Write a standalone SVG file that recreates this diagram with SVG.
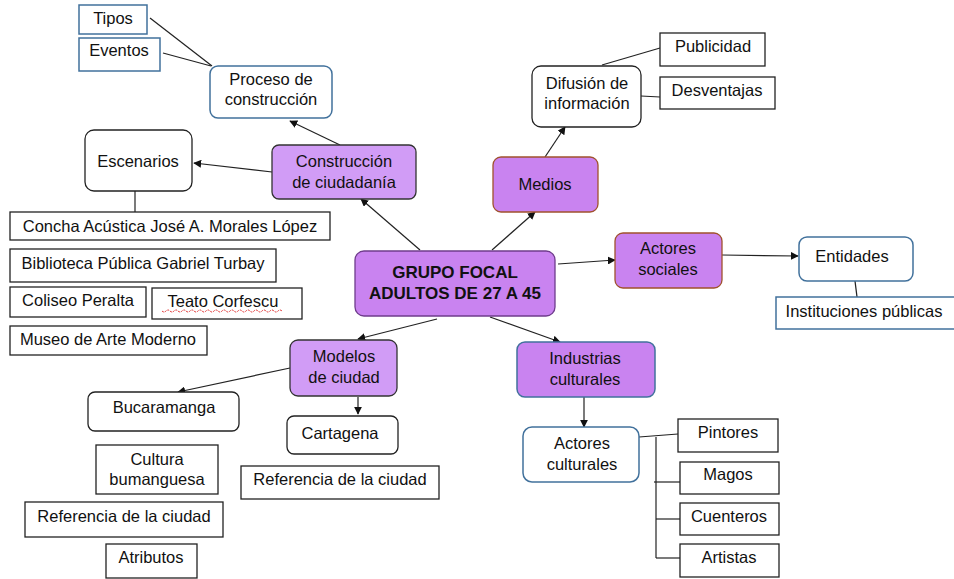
<svg xmlns="http://www.w3.org/2000/svg" width="954" height="579" viewBox="0 0 954 579">
<style>
text{font-family:"Liberation Sans",Arial,sans-serif;font-size:16.5px;fill:#111;text-anchor:middle}
.b{font-weight:bold;font-size:17px}
.sq{fill:#fff;stroke:#222;stroke-width:1.3}
.sqb{fill:#fff;stroke:#41719c;stroke-width:1.5}
.rw{fill:#fff;stroke:#222;stroke-width:1.3}
.rb{fill:#fff;stroke:#41719c;stroke-width:1.5}
.p1{fill:#c983f0;stroke:#6f3c8c;stroke-width:1.3}
.p2{fill:#d19cf6;stroke:#333;stroke-width:1.3}
.pbr{fill:#c983f0;stroke:#a0522d;stroke-width:1.3}
.pbl{fill:#c983f0;stroke:#41719c;stroke-width:1.5}
.c line,.c path{stroke:#222;stroke-width:1.2;fill:none}
.err{stroke:#e03030;stroke-width:1;fill:none;stroke-dasharray:2 1}
</style>
<defs>
<marker id="a" viewBox="0 0 10 10" refX="9" refY="5" markerWidth="8" markerHeight="8" orient="auto" markerUnits="userSpaceOnUse"><path d="M0,0 L10,5 L0,10 z" fill="#111"/></marker>
</defs>
<g class="c">
<line x1="150" y1="18" x2="212" y2="66"/>
<line x1="163" y1="53" x2="211" y2="66"/>
<line x1="340" y1="145" x2="290" y2="121" marker-end="url(#a)"/>
<line x1="272" y1="172" x2="194" y2="163" marker-end="url(#a)"/>
<line x1="135" y1="191" x2="135" y2="212"/>
<line x1="420" y1="250" x2="361" y2="199" marker-end="url(#a)"/>
<line x1="492" y1="250" x2="535" y2="212" marker-end="url(#a)"/>
<line x1="545" y1="157" x2="565" y2="127" marker-end="url(#a)"/>
<line x1="602" y1="65" x2="660" y2="48"/>
<line x1="641" y1="96" x2="660" y2="97"/>
<line x1="558" y1="264" x2="615" y2="260" marker-end="url(#a)"/>
<line x1="722" y1="255" x2="798" y2="256" marker-end="url(#a)"/>
<line x1="855" y1="281" x2="857" y2="297"/>
<line x1="437" y1="319" x2="358" y2="339" marker-end="url(#a)"/>
<line x1="490" y1="317" x2="560" y2="342" marker-end="url(#a)"/>
<line x1="290" y1="368" x2="178" y2="392" marker-end="url(#a)"/>
<line x1="358" y1="397" x2="358" y2="414" marker-end="url(#a)"/>
<line x1="584" y1="397" x2="584" y2="427" marker-end="url(#a)"/>
<line x1="639" y1="437" x2="678" y2="434"/>
<line x1="656" y1="437" x2="656" y2="558"/>
<line x1="654" y1="482" x2="684" y2="482"/>
<line x1="656" y1="519" x2="680" y2="519"/>
<line x1="656" y1="558" x2="680" y2="558"/>
</g>
<g id="tipos"><rect class="sqb" x="79" y="5" width="68" height="29"/><text x="113" y="24">Tipos</text></g>
<g id="eventos"><rect class="sqb" x="79" y="38" width="81" height="33"/><text x="119" y="56">Eventos</text></g>
<g id="proceso"><rect class="rb" x="210" y="66" width="122" height="52" rx="8"/><text x="271" y="85">Proceso de</text><text x="271" y="105">construcción</text></g>
<g id="escenarios"><rect class="rw" x="85" y="130" width="107" height="61" rx="9"/><text x="138" y="167">Escenarios</text></g>
<g id="construccion"><rect class="p2" x="272" y="145" width="144" height="54" rx="7"/><text x="344" y="167">Construcción</text><text x="344" y="188">de ciudadanía</text></g>
<g id="concha"><rect class="sq" x="10" y="212" width="320" height="28"/><text x="170" y="232">Concha Acústica José A. Morales López</text></g>
<g id="biblioteca"><rect class="sq" x="10" y="249" width="266" height="33"/><text x="143" y="269">Biblioteca Pública Gabriel Turbay</text></g>
<g id="coliseo"><rect class="sq" x="10" y="287" width="136" height="30"/><text x="78" y="306">Coliseo Peralta</text></g>
<g id="teato"><rect class="sq" x="152" y="288" width="150" height="31"/><text x="223" y="307">Teato Corfescu</text><path class="err" d="M162,311 q2,2 4,0 t4,0 t4,0 t4,0 t4,0 t4,0 t4,0 t4,0 t4,0 t4,0 t4,0 t4,0 t4,0 t4,0 t4,0 t4,0 t4,0 t4,0 t4,0 t4,0 t4,0 t4,0 t4,0 t4,0 t4,0 t4,0 t4,0 t4,0 t4,0 t4,0"/></g>
<g id="museo"><rect class="sq" x="10" y="326" width="197" height="29"/><text x="108" y="345">Museo de Arte Moderno</text></g>
<g id="difusion"><rect class="rw" x="532" y="66" width="109" height="61" rx="9"/><text x="587" y="89">Difusión de</text><text x="587" y="109">información</text></g>
<g id="publicidad"><rect class="sq" x="660" y="33" width="105" height="33"/><text x="713" y="52">Publicidad</text></g>
<g id="desventajas"><rect class="sq" x="660" y="77" width="115" height="32"/><text x="717" y="96">Desventajas</text></g>
<g id="medios"><rect class="pbr" x="493" y="157" width="105" height="55" rx="8"/><text x="545" y="190">Medios</text></g>
<g id="grupo"><rect class="p1" x="355" y="251" width="200" height="65" rx="9"/><text class="b" x="455" y="278">GRUPO FOCAL</text><text class="b" x="455" y="299">ADULTOS DE 27 A 45</text></g>
<g id="actores_sociales"><rect class="pbr" x="615" y="233" width="107" height="55" rx="8"/><text x="668" y="254">Actores</text><text x="668" y="275">sociales</text></g>
<g id="entidades"><rect class="rb" x="799" y="237" width="114" height="44" rx="8"/><text x="852" y="262">Entidades</text></g>
<g id="instituciones"><rect class="sqb" x="776" y="297" width="180" height="32"/><text x="864" y="317">Instituciones públicas</text></g>
<g id="modelos"><rect class="p2" x="290" y="340" width="107" height="56" rx="8"/><text x="344" y="362">Modelos</text><text x="344" y="383">de ciudad</text></g>
<g id="bucaramanga"><rect class="rw" x="88" y="392" width="151" height="39" rx="7"/><text x="164" y="413">Bucaramanga</text></g>
<g id="cartagena"><rect class="rw" x="287" y="416" width="111" height="38" rx="7"/><text x="340" y="439">Cartagena</text></g>
<g id="referencia2"><rect class="sq" x="241" y="466" width="198" height="33"/><text x="340" y="485">Referencia de la ciudad</text></g>
<g id="cultura"><rect class="sq" x="96" y="445" width="122" height="49"/><text x="157" y="465">Cultura</text><text x="157" y="485">bumanguesa</text></g>
<g id="referencia1"><rect class="sq" x="25" y="502" width="198" height="35"/><text x="124" y="522">Referencia de la ciudad</text></g>
<g id="atributos"><rect class="sq" x="106" y="544" width="91" height="34"/><text x="151" y="563">Atributos</text></g>
<g id="industrias"><rect class="pbl" x="517" y="342" width="138" height="55" rx="8"/><text x="585" y="364">Industrias</text><text x="585" y="385">culturales</text></g>
<g id="actores_culturales"><rect class="rb" x="523" y="427" width="116" height="55" rx="9"/><text x="582" y="449">Actores</text><text x="582" y="470">culturales</text></g>
<g id="pintores"><rect class="sq" x="678" y="419" width="100" height="33"/><text x="728" y="438">Pintores</text></g>
<g id="magos"><rect class="sq" x="680" y="462" width="99" height="32"/><text x="728" y="480">Magos</text></g>
<g id="cuenteros"><rect class="sq" x="680" y="503" width="99" height="32"/><text x="729" y="522">Cuenteros</text></g>
<g id="artistas"><rect class="sq" x="680" y="544" width="99" height="33"/><text x="729" y="563">Artistas</text></g>
</svg>
